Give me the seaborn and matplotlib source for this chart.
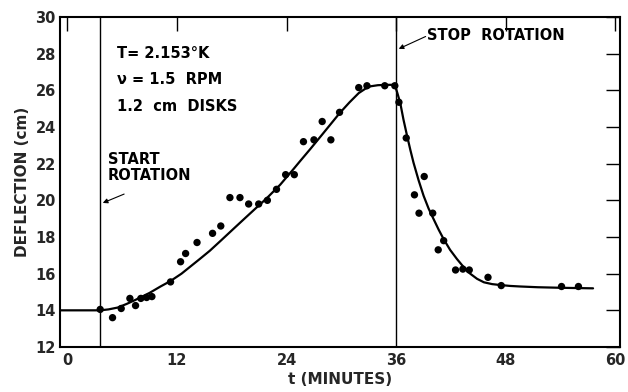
import matplotlib
matplotlib.use("Agg")
import matplotlib.pyplot as plt
import seaborn as sns
import pandas as pd

# measured points (t in minutes, deflection in cm)
t_pts = [3.6, 4.95, 5.9, 6.85, 7.47, 8.05, 8.68, 9.26, 11.3, 12.4, 12.95, 14.2,
         15.9, 16.8, 17.8, 18.9, 19.85, 20.95, 21.9, 22.9, 23.9, 24.85, 25.85,
         27.0, 27.9, 28.85, 29.8, 31.9, 32.8, 34.75, 35.85, 36.3, 37.1, 38.0,
         38.5, 39.07, 40.0, 40.6, 41.2, 42.5, 43.3, 44.0, 46.05, 47.5, 54.1, 55.95]
d_pts = [14.05, 13.6, 14.1, 14.65, 14.26, 14.65, 14.7, 14.75, 15.55, 16.65, 17.1,
         17.7, 18.2, 18.6, 20.15, 20.15, 19.8, 19.8, 20.0, 20.6, 21.4, 21.4, 23.2,
         23.3, 24.3, 23.3, 24.8, 26.15, 26.25, 26.25, 26.25, 25.35, 23.4, 20.3,
         19.3, 21.3, 19.3, 17.3, 17.8, 16.2, 16.25, 16.2, 15.8, 15.35, 15.3, 15.3]

# fitted curve
t_fit = [-0.8, 1.0, 3.6, 4.5, 5.5, 6.5, 7.5, 9.0, 10.2, 11.3, 12.5, 13.5, 14.5,
         15.6, 16.8, 18.2, 19.5, 20.7, 21.8, 23.3, 24.75, 25.5, 26.6, 28.0, 29.8,
         30.9, 31.9, 32.6, 33.2, 34.0, 35.0, 35.85, 36.1, 36.45, 36.8, 37.2, 37.55,
         37.9, 38.45, 39.0, 39.55, 40.1, 40.65, 41.2, 41.9, 42.65, 43.4, 44.1,
         44.85, 45.6, 46.5, 47.4, 48.5, 49.6, 51.5, 54.0, 57.55]
d_fit = [14.0, 14.0, 14.0, 14.05, 14.15, 14.35, 14.58, 14.95, 15.3, 15.6, 16.0,
         16.4, 16.8, 17.25, 17.8, 18.45, 19.05, 19.6, 20.1, 20.85, 21.7, 22.15,
         22.8, 23.65, 24.75, 25.35, 25.85, 26.08, 26.22, 26.28, 26.3, 26.3, 25.9,
         25.3, 24.4, 23.5, 22.75, 22.05, 21.1, 20.25, 19.55, 18.97, 18.4, 17.88,
         17.3, 16.8, 16.35, 16.0, 15.72, 15.53, 15.43, 15.38, 15.33, 15.3, 15.26,
         15.23, 15.2]

x_ticks = [0, 12, 24, 36, 48, 60]
y_ticks = [12, 14, 16, 18, 20, 22, 24, 26, 28, 30]
t_start = 3.6
t_stop = 36.0

sns.set_style("white")
plt.rcParams['font.family'] = ['DejaVu Sans']

fig = plt.figure(figsize=(6.28, 3.92), dpi=100)
ax = fig.add_axes([60/628, 1-347/392, 560/628, 330/392])

pts = pd.DataFrame({"t": t_pts, "d": d_pts})
fit = pd.DataFrame({"t": t_fit, "d": d_fit})
sns.lineplot(data=fit, x="t", y="d", sort=False, color="black", lw=1.6, ax=ax)
sns.scatterplot(data=pts, x="t", y="d", color="black", s=28, edgecolor="none", ax=ax)

ax.axvline(t_start, color="black", lw=1.0)
ax.axvline(t_stop, color="black", lw=1.0)

ax.set_xlim(-0.8, 60.5)
ax.set_ylim(12, 30)
ax.set_xticks(x_ticks)
ax.set_yticks(y_ticks)
ax.set_xticklabels([str(v) for v in x_ticks], fontsize=10.5, fontweight="bold")
ax.set_yticklabels([str(v) for v in y_ticks], fontsize=10.5, fontweight="bold")
ax.tick_params(axis="both", direction="in", length=10, width=1.0, color="black",
               top=True, right=True, pad=3)
ax.tick_params(axis="x", pad=4)
for s in ax.spines.values():
    s.set_color("black")
    s.set_linewidth(1.5)

ax.set_xlabel("t (MINUTES)", fontsize=11, fontweight="bold", labelpad=3)
ax.set_ylabel("DEFLECTION (cm)", fontsize=11, fontweight="bold", labelpad=4)

tk = dict(fontsize=10.5, fontweight="bold", color="black", ha="left", va="center")
ax.text(5.4, 28.0, "T= 2.153°K", **tk)
ax.text(5.4, 26.6, "ν = 1.5  RPM", **tk)
ax.text(5.4, 25.1, "1.2  cm  DISKS", **tk)
ax.text(4.4, 21.8, "START\nROTATION", fontsize=10.5, fontweight="bold",
        color="black", ha="left", va="center", linespacing=1.05)
ax.text(39.4, 29.0, "STOP  ROTATION", **tk)

ax.annotate("", xy=(t_start, 19.8), xytext=(6.5, 20.4),
            arrowprops=dict(arrowstyle="-|>", color="black", lw=0.8,
                            mutation_scale=7))
ax.annotate("", xy=(t_stop, 28.2), xytext=(39.5, 29.0),
            arrowprops=dict(arrowstyle="-|>", color="black", lw=0.8,
                            mutation_scale=7))

fig.savefig("out.png", dpi=100)
